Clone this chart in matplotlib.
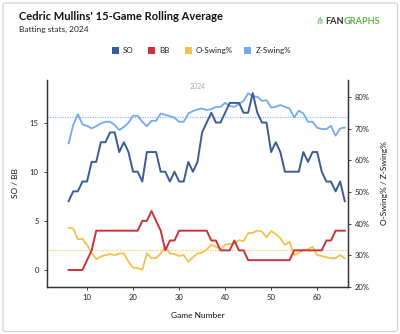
import matplotlib
matplotlib.use("Agg")
import matplotlib.pyplot as plt
from matplotlib.patches import FancyBboxPatch, Rectangle

plt.rcParams['font.family'] = ['Lato', 'DejaVu Sans']

games = list(range(6, 67))

so = [7, 8, 8, 9, 9, 11, 11, 13, 13, 14, 14, 12, 13, 12, 10, 10, 9, 12, 12, 12,
      10, 10, 9, 10, 9, 9, 11, 10, 11, 14, 15, 16, 15, 15, 16, 17, 17, 17, 16, 16,
      18, 16, 15, 15, 12, 13, 12, 10, 10, 10, 10, 12, 11, 12, 12, 10, 9, 9, 8, 9, 7]

bb = [0, 0, 0, 0, 1, 2, 4, 4, 4, 4, 4, 4, 4, 4, 4, 4, 5, 5, 6, 5,
      4, 2, 3, 3, 4, 4, 4, 4, 4, 4, 4, 3, 3, 2, 2, 2, 3, 2, 2, 1,
      1, 1, 1, 1, 1, 1, 1, 1, 1, 2, 2, 2, 2, 2, 2, 2, 3, 3, 4, 4, 4]

o_swing = [38.7, 38.5, 35.1, 35.2, 33.3, 30.8, 28.8, 29.6, 30.1, 30.4, 30.1, 30.6,
           30.6, 28.0, 26.1, 26.0, 25.4, 30.6, 29.1, 29.1, 30.6, 32.7, 30.6, 30.4,
           29.8, 30.1, 28.0, 29.4, 30.6, 30.8, 31.9, 33.3, 32.7, 31.9, 33.3, 33.6,
           33.6, 34.8, 34.5, 37.0, 37.1, 37.8, 37.5, 35.7, 37.7, 36.7, 35.4, 33.3,
           34.3, 30.1, 30.8, 31.7, 31.9, 32.7, 30.1, 29.8, 29.4, 29.1, 29.1, 30.1, 29.1]

z_swing = [65.4, 71.2, 74.6, 71.4, 70.9, 70.1, 70.8, 71.7, 72.2, 72.2, 71.2, 69.6,
           70.6, 71.9, 74.1, 74.1, 72.2, 70.8, 72.5, 72.5, 74.8, 74.4, 74.0, 73.5,
           72.2, 72.2, 74.8, 75.6, 76.1, 76.4, 75.9, 76.2, 76.9, 76.9, 78.2, 77.2,
           76.9, 77.8, 78.8, 81.2, 80.3, 80.1, 78.8, 79.0, 76.7, 76.9, 77.5, 76.9,
           76.4, 73.6, 75.7, 74.8, 72.2, 72.2, 70.3, 69.9, 69.9, 70.9, 67.8, 70.1, 70.4]

o_swing_avg = 31.7
z_swing_avg = 73.8

series_names = ['SO', 'BB', 'O-Swing%', 'Z-Swing%']
colors = {'SO': '#3a5c96', 'BB': '#c9333b', 'O-Swing%': '#f4c150', 'Z-Swing%': '#73a9f0'}

W, H = 400, 334
fig = plt.figure(figsize=(4.0, 3.34), dpi=100)
fig.patch.set_facecolor('white')


def fx(px):
    return px / W


def fy(py):
    return 1 - py / H


# outer frame
frame = FancyBboxPatch((fx(3), fy(331.5)), fx(394.5), (331.5 - 3) / H,
                       boxstyle="round,pad=0,rounding_size=0.005",
                       transform=fig.transFigure, fill=False,
                       edgecolor='#d0d0d0', linewidth=0.8)
fig.add_artist(frame)

ax = fig.add_axes([fx(47), fy(287), fx(348 - 47), (287 - 80) / H])
ax2 = ax.twinx()

ax.set_xlim(1.3, 66.7)
ax.set_ylim(-1.73, 19.33)
ax2.set_ylim(20, 85.4)

# league-average reference lines
ax2.axhline(z_swing_avg, color=colors['Z-Swing%'], lw=0.9, ls=(0, (1, 1)), alpha=0.8)
ax2.axhline(o_swing_avg, color=colors['O-Swing%'], lw=0.9, ls=(0, (1, 1)), alpha=0.8)

ax2.plot(games, z_swing, color=colors['Z-Swing%'], lw=1.3, zorder=3)
ax2.plot(games, o_swing, color=colors['O-Swing%'], lw=1.3, zorder=3)
ax.plot(games, so, color=colors['SO'], lw=1.4, zorder=4)
ax.plot(games, bb, color=colors['BB'], lw=1.4, zorder=4)
ax.set_zorder(ax2.get_zorder() + 1)
ax.patch.set_visible(False)

for a in (ax, ax2):
    a.spines['top'].set_visible(False)
    for s in ('left', 'right', 'bottom'):
        a.spines[s].set_color('#333333')
        a.spines[s].set_linewidth(0.9)
    a.tick_params(labelsize=5.5, colors='#222222', length=2, width=0.6)

ax.set_xticks([10, 20, 30, 40, 50, 60])
ax.set_yticks([0, 5, 10, 15])
ax2.set_yticks([20, 30, 40, 50, 60, 70, 80])
ax2.set_yticklabels([f'{v}%' for v in [20, 30, 40, 50, 60, 70, 80]])
ax.tick_params(axis='x', pad=3)
ax.tick_params(axis='y', pad=4)
ax2.tick_params(axis='y', pad=3)

ax.set_xlabel('Game Number', fontsize=6, color='#111111', labelpad=8)
ax.set_ylabel('SO / BB', fontsize=6, color='#111111', labelpad=8)
ax2.set_ylabel('O-Swing% / Z-Swing%', fontsize=6, color='#111111', labelpad=8)

ax.text(0.5, 0.985, '2024', transform=ax.transAxes, ha='center', va='top',
        fontsize=5, color='#aaaaaa')

# header
fig.text(fx(19), fy(17), "Cedric Mullins' 15-Game Rolling Average", fontsize=8,
         fontweight='bold', color='#111111', va='center', ha='left')
fig.text(fx(19), fy(29.5), 'Batting stats, 2024', fontsize=6, color='#222222',
         va='center', ha='left')

# logo: two-tone word mark placed side by side
fig.text(fx(315), fy(21), '⋔', fontsize=7, color='#5cb84a', va='center', ha='left',
         family='DejaVu Sans')
fan = fig.text(fx(325), fy(21), 'FAN', fontsize=6.6, fontweight='bold',
               color='#333333', va='center', ha='left')
renderer = fig.canvas.get_renderer()
fan_right = fan.get_window_extent(renderer).x1 / fig.bbox.width
fig.text(fan_right + fx(0.3), fy(21), 'GRAPHS', fontsize=6.6, fontweight='bold',
         color='#5cb84a', va='center', ha='left')

# legend
legend_x = {'SO': 112, 'BB': 148, 'O-Swing%': 184.5, 'Z-Swing%': 244.5}
for name in series_names:
    x0 = legend_x[name]
    fig.add_artist(Rectangle((fx(x0), fy(54)), fx(7), 7 / H, transform=fig.transFigure,
                             facecolor=colors[name], edgecolor='none'))
    fig.text(fx(x0 + 11), fy(50.5), name, fontsize=5.8, color='#222222',
             va='center', ha='left')

fig.savefig('out.png', dpi=100)
